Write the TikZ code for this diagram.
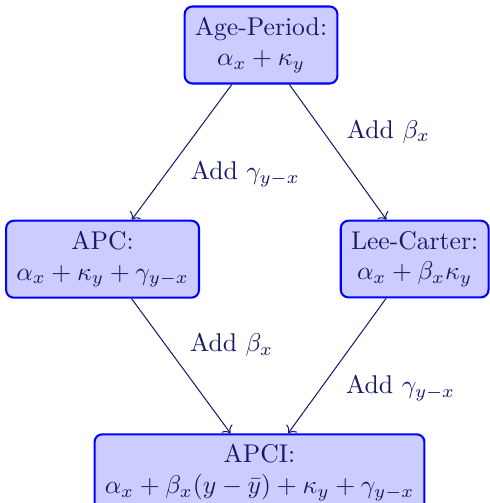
\documentclass[tikz,border=0pt]{standalone}
\usepackage{amsmath,amssymb}
\usepackage{tikz}
\usepackage{xcolor}
\usetikzlibrary{arrows.meta, positioning}
\definecolor{ink}{RGB}{25,25,105}
\definecolor{boxfill}{RGB}{204,204,255}
\definecolor{boxline}{RGB}{0,0,255}

\begin{document}
\begin{tikzpicture}[
  model/.style={draw=boxline, thick, rounded corners=3pt, fill=boxfill, text=ink, align=center, inner sep=4pt},
  arr/.style={->, draw=ink},
  lbl/.style={text=ink, midway},
]
\useasboundingbox (-101.8pt,17.55pt) rectangle (88.9pt,-178.6pt);
\node[model] (ap) at (0,0) {Age-Period:\\ $\alpha_x + \kappa_y$};
\node[model, below=52.7pt of ap, xshift=-61.8pt] (apc) {APC:\\ $\alpha_x + \kappa_y + \gamma_{y-x}$};
\node[model, below=52.7pt of ap, xshift=59.9pt] (lc) {Lee-Carter:\\ $\alpha_x + \beta_x\kappa_y$};
\node[model, below=136pt of ap, xshift=-0.6pt] (apci) {APCI:\\ $\alpha_x + \beta_x(y-\bar{y}) + \kappa_y + \gamma_{y-x}$};

\draw[arr] (ap) -- (apc) node[lbl, below right] {Add $\gamma_{y-x}$};
\draw[arr] (ap) -- (lc) node[lbl, above right] {Add $\beta_x$};
\draw[arr] (apc) -- (apci) node[lbl, above right] {Add $\beta_x$};
\draw[arr] (lc) -- (apci) node[lbl, below right] {Add $\gamma_{y-x}$};
\end{tikzpicture}
\end{document}
